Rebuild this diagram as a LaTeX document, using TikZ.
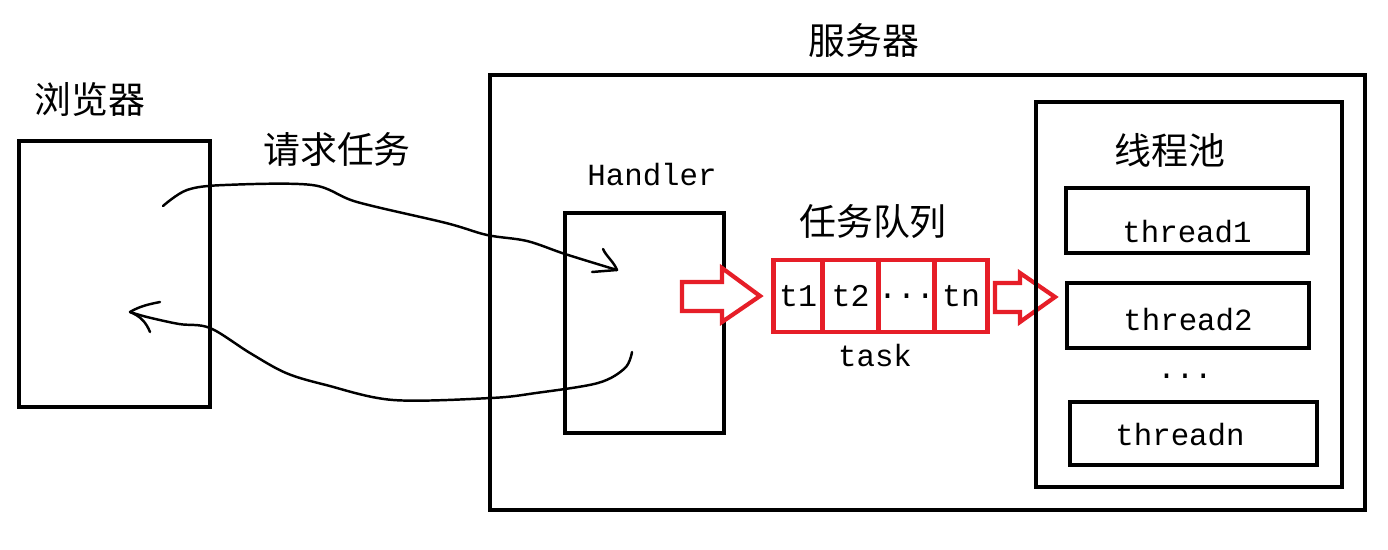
\documentclass[tikz,border=0pt]{standalone}
\usepackage{fontspec}
\newfontfamily\cjk{Noto Sans CJK SC}
\newfontfamily\mono{Liberation Mono}
\definecolor{qred}{RGB}{230,30,40}
\begin{document}
\begin{tikzpicture}[x=0.02cm,y=-0.02cm,
  box/.style={draw=black,line width=2.3pt,rectangle,inner sep=0pt},
  cell/.style={draw=qred,line width=2.6pt,rectangle,inner sep=0pt,outer sep=0pt,minimum height=72*0.02cm,font=\mono\fontsize{18}{20}\selectfont},
  cjklabel/.style={font=\cjk\fontsize{21}{24}\selectfont,inner sep=0pt},
  monolabel/.style={font=\mono\fontsize{17.5}{20}\selectfont,inner sep=0pt},
  hand/.style={line width=1.4pt,line cap=round,line join=round},
  hollow/.style={draw=qred,line width=2.4pt,line join=miter,fill=white}]
\useasboundingbox (0,0) rectangle (1388,550);

% browser
\node[box,minimum width=191*0.02cm,minimum height=266*0.02cm] (browser) at (114.5,274) {};
\node[cjklabel] (browserlbl) at (90,100) {浏览器};

% server
\node[box,minimum width=875*0.02cm,minimum height=435*0.02cm] (server) at (927.5,292.5) {};
\node[cjklabel] (serverlbl) at (864,40) {服务器};

\node[cjklabel] (reqlbl) at (337,150) {请求任务};

% handler
\node[box,minimum width=159*0.02cm,minimum height=220*0.02cm] (handler) at (644.5,323) {};
\node[monolabel] (handlerlbl) at (652,175) {Handler};

% queue
\node[cjklabel] (queuelbl) at (873,222) {任务队列};
\node[cell,minimum width=49*0.02cm] (t1) at (798,296) {\makebox[0pt]{t1}};
\node[cell,minimum width=56*0.02cm,anchor=west] (t2) at (t1.east) {\makebox[0pt]{t2}};
\node[cell,minimum width=56*0.02cm,anchor=west] (tdots) at (t2.east) {\makebox[0pt]{...}};
\node[cell,minimum width=53*0.02cm,anchor=west] (tn) at (tdots.east) {\makebox[0pt]{tn}};
\node[monolabel] (tasklbl) at (875,356) {task};

% red hollow arrows
\draw[hollow] (682,282) -- (722,282) -- (722,268) -- (760,296) -- (722,322) -- (722,311) -- (682,311) -- cycle;
\draw[hollow] (995,283) -- (1020,283) -- (1020,273) -- (1055,297) -- (1020,322) -- (1020,312) -- (995,312) -- cycle;

% thread pool
\node[box,minimum width=306*0.02cm,minimum height=385*0.02cm] (pool) at (1189,294.5) {};
\node[cjklabel] (poollbl) at (1170,150) {线程池};
\node[box,minimum width=242*0.02cm,minimum height=65*0.02cm] (th1) at (1187,220.5) {};
\node[monolabel] (th1lbl) at (1187,232) {thread1};
\node[box,minimum width=242*0.02cm,minimum height=65*0.02cm] (th2) at (1188,315.5) {};
\node[monolabel] (th2lbl) at (1188,320) {thread2};
\node[monolabel] (thdots) at (1185,376) {...};
\node[box,minimum width=247*0.02cm,minimum height=63*0.02cm] (thn) at (1193.5,433.5) {};
\node[monolabel] (thnlbl) at (1180,435) {threadn};

% hand-drawn connectors
\coordinate (reqstart) at (163,206);
\coordinate (reqend) at (617,270);
\coordinate (respstart) at (632,352);
\coordinate (respend) at (130,312);
\draw[hand] plot[smooth,tension=0.55] coordinates {(reqstart) (187,190) (225,185) (312,185) (357,202) (446,223) (487,235) (527,241) (565,254) (reqend)};
\draw[hand] (603,249) .. controls (606,256) and (614,262) .. (reqend) -- (592,272);
\draw[hand] plot[smooth,tension=0.55] coordinates {(respstart) (625,368) (598,383) (536,393) (491,398) (393,400) (326,385) (286,373) (250,353) (210,328) (179,324) (147,317) (respend)};
\draw[hand] (160,302) .. controls (150,304) and (140,306) .. (respend) .. controls (140,316) and (146,322) .. (150,332);
\end{tikzpicture}
\end{document}
